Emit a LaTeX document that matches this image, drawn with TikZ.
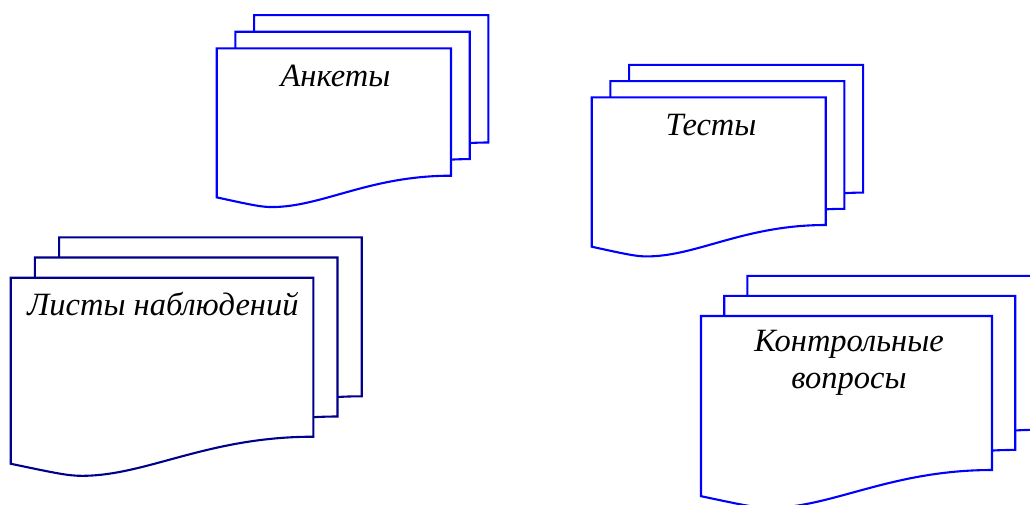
\documentclass[tikz,border=0pt]{standalone}
\usepackage{fontspec}
\setmainfont{Liberation Serif}
\usetikzlibrary{calc}
\definecolor{docblue}{RGB}{0,0,255}
\definecolor{docnavy}{RGB}{0,0,140}
\tikzset{
  sheet/.style={line width=2.1pt, fill=white, line join=miter},
  lbl/.style={font=\fontsize{32.5}{36.7}\selectfont\itshape, inner sep=0pt, align=center, text=black}
}
% #1 x, #2 y (top-left), #3 width, #4 right-edge height, #5 colour
\newcommand\mdsheet[5]{%
  \draw[sheet, draw=#5] (#1,#2) -- ++(#3,0) -- ++(0,#4)
    .. controls ($(#1,#2)+(0.65*#3,#4)$) and ($(#1,#2)+(0.45*#3,1.246*#4)$) .. ($(#1,#2)+(0.235*#3,1.246*#4)$)
    .. controls ($(#1,#2)+(0.19*#3,1.246*#4)$) and ($(#1,#2)+(0.15*#3,1.23*#4)$) .. ($(#1,#2)+(0,1.17*#4)$)
    -- cycle;}
% #1 x, #2 y of front sheet, #3 w, #4 h, #5 dx, #6 dy, #7 colour
\newcommand\mdstack[7]{%
  \mdsheet{#1+2*#5}{#2-2*#6}{#3}{#4}{#7}
  \mdsheet{#1+#5}{#2-#6}{#3}{#4}{#7}
  \mdsheet{#1}{#2}{#3}{#4}{#7}}
\begin{document}
\begin{tikzpicture}[x=1pt, y=-1pt]
\useasboundingbox (0,0) rectangle (1030,504);
% Анкеты
\mdstack{216.7}{48.3}{234.3}{127.4}{18.7}{16.6}{docblue}
% Тесты
\mdstack{591.7}{97.3}{234}{127.7}{18.7}{16.2}{docblue}
% Листы наблюдений
\mdstack{10.7}{277.7}{302.6}{159}{24.2}{20.2}{docnavy}
% Контрольные вопросы
\mdstack{701}{316}{291}{154}{23.2}{20.1}{docblue}

\node[lbl, anchor=base] (ank) at (335.5,86) {Анкеты};
\node[lbl, anchor=base] (test) at (711,135) {Тесты};
\node[lbl, anchor=base] (list) at (163,315) {Листы наблюдений};
\node[lbl, anchor=base] (kontr) at (849,388.3) {Контрольные\\вопросы};
\end{tikzpicture}
\end{document}
